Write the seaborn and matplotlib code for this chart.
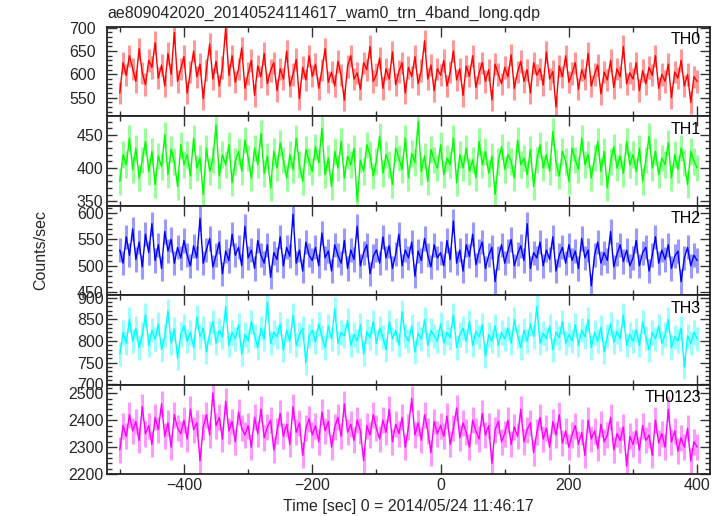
import numpy as np
import pandas as pd
import matplotlib
matplotlib.use("Agg")
import matplotlib.pyplot as plt
from matplotlib.ticker import MultipleLocator
import seaborn as sns

# ---- data (5 s bins read/estimated from the picture) ----
time = np.arange(-500, 401, 5)

th0 = [560, 625, 598, 640, 612, 585, 655, 603, 578, 630, 615, 668, 592, 620, 575, 645, 600, 690, 585, 612,
       638, 560, 605, 650, 595, 622, 548, 610, 665, 590, 628, 575, 615, 700, 598, 640, 583, 612, 657, 570,
       602, 630, 555, 618, 595, 645, 580, 608, 625, 565, 612, 590, 650, 575, 600, 632, 548, 615, 588, 640,
       596, 622, 570, 610, 655, 583, 605, 575, 628, 598, 545, 617, 640, 590, 603, 568, 625, 610, 660, 585,
       600, 635, 570, 612, 590, 648, 578, 606, 625, 560, 615, 595, 638, 580, 608, 672, 590, 620, 565, 612,
       598, 630, 575, 605, 650, 588, 612, 555, 618, 596, 640, 572, 603, 625, 585, 610, 545, 622, 600, 580,
       615, 595, 642, 570, 605, 628, 585, 610, 560, 625, 598, 612, 577, 648, 590, 606, 530, 618, 595, 640,
       583, 602, 625, 568, 610, 590, 645, 575, 600, 620, 558, 605, 588, 630, 572, 612, 595, 660, 580, 603,
       590, 625, 565, 608, 580, 615, 598, 640, 570, 600, 585, 622, 550, 605, 592, 630, 575, 600, 540, 595,
       585]
th1 = [380, 420, 405, 445, 398, 430, 385, 412, 440, 395, 425, 375, 418, 402, 450, 390, 428, 410, 372, 435,
       405, 420, 388, 445, 400, 415, 360, 430, 395, 412, 465, 388, 420, 405, 435, 378, 410, 425, 395, 442,
       415, 385, 430, 405, 452, 392, 418, 370, 425, 400, 438, 412, 385, 420, 398, 445, 405, 380, 428, 410,
       395, 432, 408, 460, 390, 415, 372, 425, 400, 440, 385, 418, 405, 430, 350, 412, 395, 435, 420, 388,
       410, 448, 392, 420, 405, 375, 430, 415, 398, 445, 385, 422, 408, 470, 395, 418, 380, 428, 412, 400,
       435, 390, 415, 405, 445, 378, 420, 400, 430, 395, 412, 385, 440, 405, 425, 392, 418, 360, 410, 432,
       398, 420, 410, 385, 442, 405, 415, 390, 428, 372, 412, 435, 400, 420, 395, 455, 408, 388, 425, 410,
       380, 430, 412, 398, 445, 405, 420, 385, 415, 440, 395, 425, 370, 410, 432, 400, 418, 392, 440, 405,
       420, 395, 430, 380, 412, 448, 400, 425, 390, 415, 405, 438, 385, 420, 398, 430, 408, 375, 425, 410,
       400]
th2 = [530, 505, 555, 520, 570, 512, 545, 498, 560, 525, 580, 510, 540, 495, 565, 528, 550, 505, 535, 515,
       548, 520, 500, 538, 515, 590, 505, 530, 552, 498, 520, 545, 485, 528, 510, 560, 520, 535, 500, 575,
       515, 530, 495, 548, 520, 505, 540, 478, 525, 512, 555, 500, 535, 518, 598, 505, 530, 490, 545, 520,
       510, 535, 500, 562, 515, 528, 490, 540, 520, 505, 548, 495, 530, 512, 575, 500, 525, 540, 485, 518,
       530, 505, 555, 515, 538, 495, 522, 560, 500, 530, 515, 545, 480, 528, 510, 552, 520, 498, 540, 515,
       525, 500, 548, 512, 585, 505, 530, 490, 540, 518, 560, 502, 528, 545, 495, 520, 535, 470, 515, 540,
       505, 528, 550, 500, 522, 538, 510, 580, 495, 525, 515, 545, 500, 530, 512, 555, 490, 520, 535, 505,
       540, 510, 528, 495, 552, 515, 530, 462, 520, 545, 505, 525, 510, 565, 498, 522, 540, 508, 530, 500,
       515, 548, 500, 525, 535, 490, 520, 555, 505, 530, 512, 540, 495, 518, 528, 470, 515, 535, 500, 520,
       510]
th3 = [770, 820, 795, 850, 800, 830, 785, 815, 860, 790, 825, 805, 840, 780, 812, 870, 795, 828, 760, 815,
       835, 800, 820, 785, 855, 810, 830, 775, 818, 845, 795, 825, 810, 880, 790, 820, 805, 838, 770, 815,
       800, 845, 812, 785, 830, 805, 890, 795, 820, 810, 840, 780, 825, 800, 860, 790, 815, 830, 750, 812,
       825, 798, 840, 810, 785, 835, 805, 875, 795, 820, 812, 848, 790, 815, 800, 838, 770, 822, 808, 845,
       795, 830, 810, 780, 845, 805, 825, 790, 868, 812, 800, 835, 775, 818, 805, 850, 790, 825, 812, 800,
       840, 795, 820, 808, 860, 785, 815, 830, 800, 845, 790, 822, 810, 838, 765, 815, 800, 835, 790, 820,
       805, 830, 795, 850, 812, 785, 825, 800, 840, 810, 880, 795, 818, 805, 835, 780, 820, 808, 845, 795,
       815, 800, 838, 790, 825, 810, 850, 785, 820, 800, 832, 775, 812, 840, 798, 822, 805, 860, 790, 815,
       800, 825, 790, 845, 808, 780, 820, 805, 835, 795, 815, 850, 785, 810, 800, 830, 740, 812, 795, 820,
       805]
th0123 = [2290, 2380, 2340, 2420, 2360, 2395, 2325, 2450, 2350, 2380, 2310, 2410, 2365, 2460, 2340, 2390, 2300, 2420, 2370, 2350,
          2400, 2330, 2440, 2365, 2390, 2250, 2375, 2420, 2345, 2500, 2380, 2410, 2330, 2470, 2360, 2395, 2320, 2430, 2370, 2345,
          2380, 2300, 2410, 2350, 2440, 2335, 2375, 2400, 2290, 2360, 2425, 2340, 2385, 2310, 2450, 2355, 2390, 2270, 2370, 2405,
          2345, 2380, 2320, 2430, 2360, 2395, 2300, 2375, 2410, 2340, 2460, 2355, 2385, 2325, 2400, 2360, 2250, 2380, 2345, 2420,
          2370, 2330, 2400, 2355, 2440, 2320, 2385, 2350, 2410, 2300, 2375, 2480, 2345, 2390, 2325, 2420, 2360, 2280, 2395, 2350,
          2380, 2340, 2415, 2310, 2370, 2445, 2335, 2390, 2355, 2300, 2400, 2360, 2330, 2425, 2345, 2380, 2240, 2365, 2395, 2320,
          2350, 2400, 2310, 2375, 2340, 2440, 2320, 2365, 2390, 2280, 2355, 2410, 2330, 2370, 2300, 2395, 2345, 2420, 2315, 2360,
          2300, 2345, 2380, 2310, 2355, 2270, 2400, 2330, 2360, 2295, 2385, 2320, 2345, 2410, 2290, 2350, 2325, 2375, 2230, 2340,
          2310, 2360, 2290, 2380, 2325, 2345, 2270, 2400, 2315, 2350, 2300, 2440, 2320, 2360, 2285, 2335, 2300, 2370, 2250, 2320,
          2300]

band_names = ["TH0", "TH1", "TH2", "TH3", "TH0123"]
band_values = [th0, th1, th2, th3, th0123]
band_errors = [24, 20, 23, 28, 48]
band_ylims = [(510, 702), (343, 478), (444, 614), (699, 906), (2200, 2531)]
band_major = [50, 50, 50, 50, 100]
band_minor = [10, 10, 10, 10, 20]
band_colors = ["#ff0000", "#00ff00", "#0000ff", "#00ffff", "#ff00ff"]
label_pads = [8, 2.5, 2.5, 2.5, 2.5]

title = "ae809042020_20140524114617_wam0_trn_4band_long.qdp"
xlabel = "Time [sec] 0 = 2014/05/24 11:46:17"
ylabel = "Counts/sec"

sns.set_theme(style="ticks")
plt.rcParams["font.family"] = ["Liberation Sans", "DejaVu Sans"]

fig, axes = plt.subplots(5, 1, figsize=(7.23, 5.16), dpi=100, sharex=True)
fig.subplots_adjust(left=0.148, right=0.982, top=0.948, bottom=0.081, hspace=0)

for ax, name, vals, err, ylim, maj, mnr, col, lp in zip(axes, band_names, band_values, band_errors,
                                                         band_ylims, band_major, band_minor, band_colors,
                                                         label_pads):
    df = pd.DataFrame({"time": time, "rate": vals})
    y = np.asarray(vals, dtype=float)
    ax.vlines(df["time"], y - err, y + err, color=col, alpha=0.4, linewidth=2.2, zorder=1)
    sns.lineplot(data=df, x="time", y="rate", ax=ax, color=col, linewidth=1.0,
                 zorder=2, legend=False)
    ax.set_ylim(*ylim)
    ax.set_xlim(-520, 420)
    ax.yaxis.set_major_locator(MultipleLocator(maj))
    ax.yaxis.set_minor_locator(MultipleLocator(mnr))
    ax.xaxis.set_major_locator(MultipleLocator(200))
    ax.xaxis.set_minor_locator(MultipleLocator(100))
    ax.tick_params(which="both", direction="in", top=True, right=True, labelsize=11.5, pad=3,
                   width=1.0, color="#333333")
    ax.tick_params(axis="y", which="both", pad=lp)
    ax.tick_params(which="major", length=7)
    ax.tick_params(which="minor", length=3.5)
    ax.set_xlabel("")
    ax.set_ylabel("")
    for sp in ax.spines.values():
        sp.set_linewidth(1.3)
        sp.set_color("#222222")
    ax.text(0.985, 0.94, name, transform=ax.transAxes, ha="right", va="top", fontsize=11.5, color="black")

axes[-1].set_xlabel(xlabel, fontsize=11.5, labelpad=4)
fig.text(0.057, 0.515, ylabel, rotation=90, ha="center", va="center", fontsize=11.5)
fig.text(0.148, 0.960, title, ha="left", va="bottom", fontsize=11.5)

fig.savefig("out.png", dpi=100)
